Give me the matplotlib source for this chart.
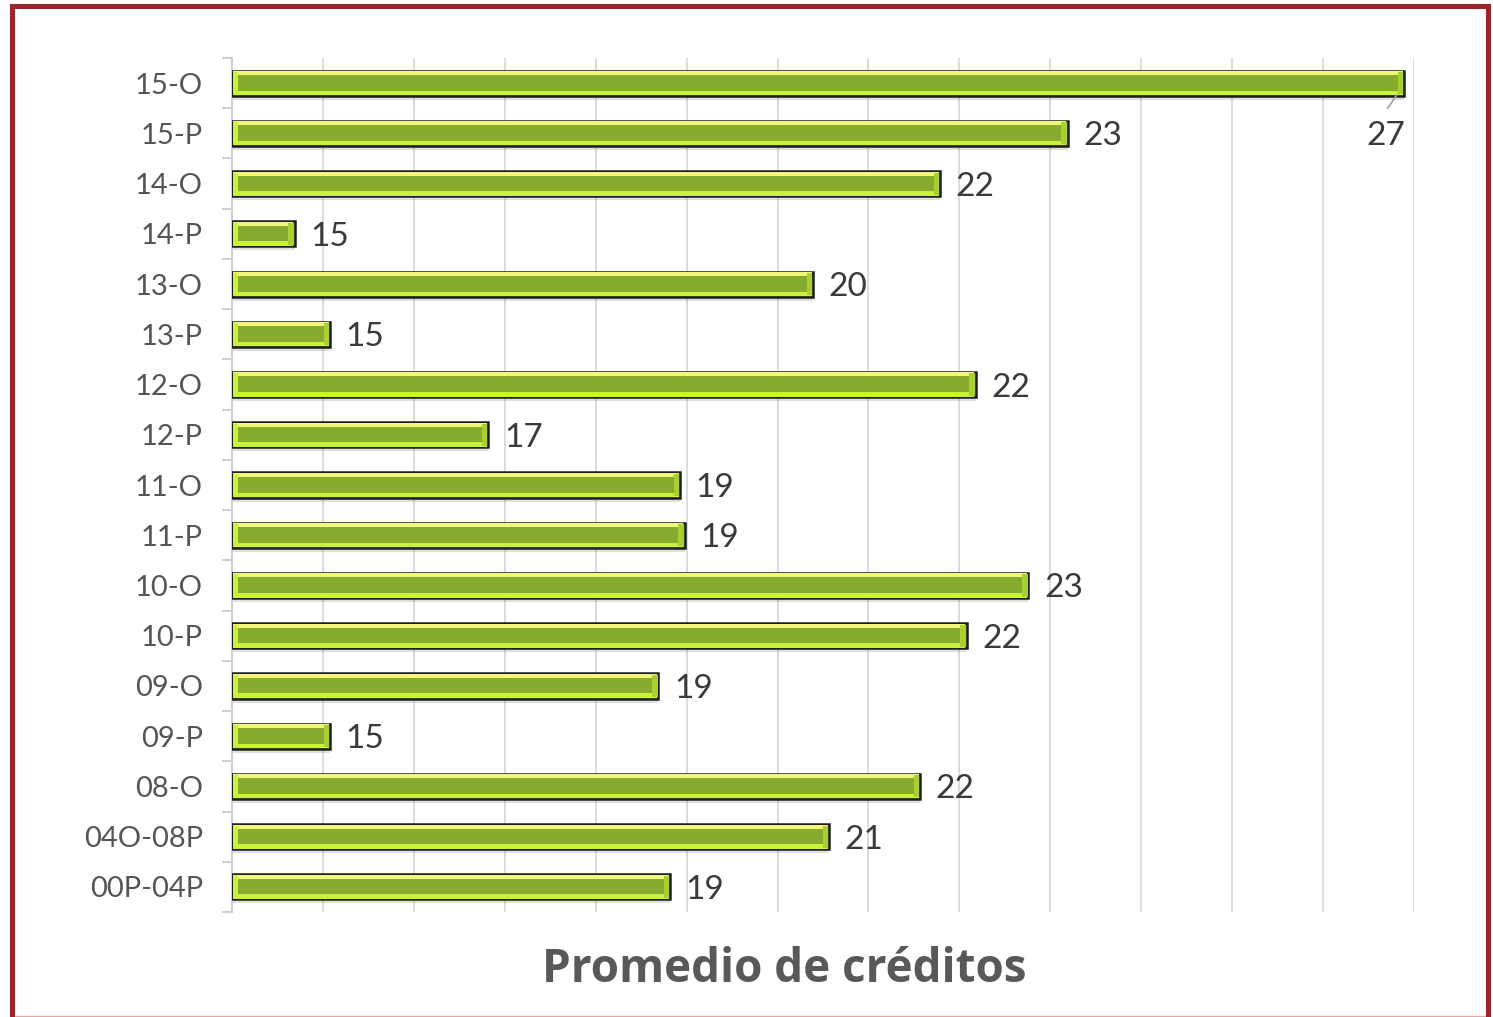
import numpy as np
import matplotlib.pyplot as plt
from matplotlib.patches import Rectangle
from matplotlib.lines import Line2D

# datos (de arriba hacia abajo)
categorias = ["15-O", "15-P", "14-O", "14-P", "13-O", "13-P", "12-O", "12-P",
              "11-O", "11-P", "10-O", "10-P", "09-O", "09-P", "08-O",
              "04O-08P", "00P-04P"]
promedios = [26.89, 23.19, 21.79, 14.69, 20.39, 15.08, 22.18, 16.82,
             18.93, 18.98, 22.76, 22.08, 18.69, 15.08, 21.57, 20.57, 18.82]
xmin, xmax = 14, 27

plt.rcParams["font.family"] = ["Lato", "DejaVu Sans"]

fig = plt.figure(figsize=(14.93, 10.17), dpi=100)
ax = fig.add_axes([232 / 1493, 1 - 912 / 1017, (1414 - 232) / 1493, (912 - 58) / 1017])

y = np.arange(len(categorias))
vals = np.array(promedios)
anchos = vals - xmin
h = 0.5

# sombra
ax.barh(y + 0.08, anchos, height=h, left=xmin, color="#000000", alpha=0.12,
        zorder=2, linewidth=0)
# barra principal
ax.barh(y, anchos, height=h, left=xmin, color="#86ab2f", edgecolor="#1e1e1e",
        linewidth=1.8, zorder=3)
# biseles
ax.barh(y - h / 2 + 0.05, anchos - 0.03, height=0.08, left=xmin + 0.015,
        color="#f2f77c", linewidth=0, zorder=4)
ax.barh(y + h / 2 - 0.055, anchos - 0.03, height=0.09, left=xmin + 0.015,
        color="#c9f23a", linewidth=0, zorder=4)
ax.barh(y, np.full(len(y), 0.06), height=h - 0.06, left=xmin + 0.01,
        color="#c9f23a", linewidth=0, zorder=4)
ax.barh(y, np.full(len(y), 0.06), height=h - 0.06, left=vals - 0.07,
        color="#a8d030", linewidth=0, zorder=4)

# etiquetas de valor
for i, v in enumerate(promedios):
    txt = f"{round(v):d}"
    if v > xmax - 0.5:
        ax.plot([v - 0.08, v - 0.18], [i + 0.24, i + 0.5], color="#a0a0a0",
                lw=1.2, zorder=5)
        ax.text(v - 0.2, i + 1.0, txt, ha="center", va="center_baseline",
                fontsize=24, color="#3a3a3a", zorder=5)
    else:
        ax.text(v + 0.17, i, txt, ha="left", va="center_baseline", fontsize=24,
                color="#3a3a3a", zorder=5)

ax.set_xlim(xmin, xmax)
ax.set_ylim(len(categorias) - 0.5, -0.5)
ax.set_xticks(np.arange(xmin, xmax + 1))
ax.tick_params(axis="x", length=0, labelbottom=False)
ax.grid(axis="x", color="#d9d9d9", linewidth=1.3, zorder=0)
ax.set_axisbelow(True)

ax.set_yticks(y)
ax.set_yticklabels(categorias, fontsize=21, color="#555555")
ax.set_yticks(np.arange(-0.5, len(categorias)), minor=True)
ax.tick_params(axis="y", which="major", length=0, pad=21)
ax.tick_params(axis="y", which="minor", length=7, color="#d0d0d0", width=1.5)

for s in ["top", "right", "bottom"]:
    ax.spines[s].set_visible(False)
ax.spines["left"].set_color("#d0d0d0")
ax.spines["left"].set_linewidth(1.5)

fig.text(784 / 1493, 1 - 970 / 1017, "Promedio de créditos", fontsize=33,
         fontweight="bold", color="#595959", ha="center", va="center",
         family=["Open Sans", "DejaVu Sans"])

# marco
fig.patches.append(Rectangle((12 / 1493, -0.02), 1476 / 1493, 1.02 - 5.5 / 1017,
                             transform=fig.transFigure, fill=False,
                             edgecolor="#9b252a", linewidth=3.6, zorder=10))
fig.lines.append(Line2D([12 / 1493, 1488 / 1493], [1.5 / 1017, 1.5 / 1017],
                        transform=fig.transFigure, color="#e0a8a8", linewidth=1))

fig.savefig("out.png", dpi=100, facecolor="white")
